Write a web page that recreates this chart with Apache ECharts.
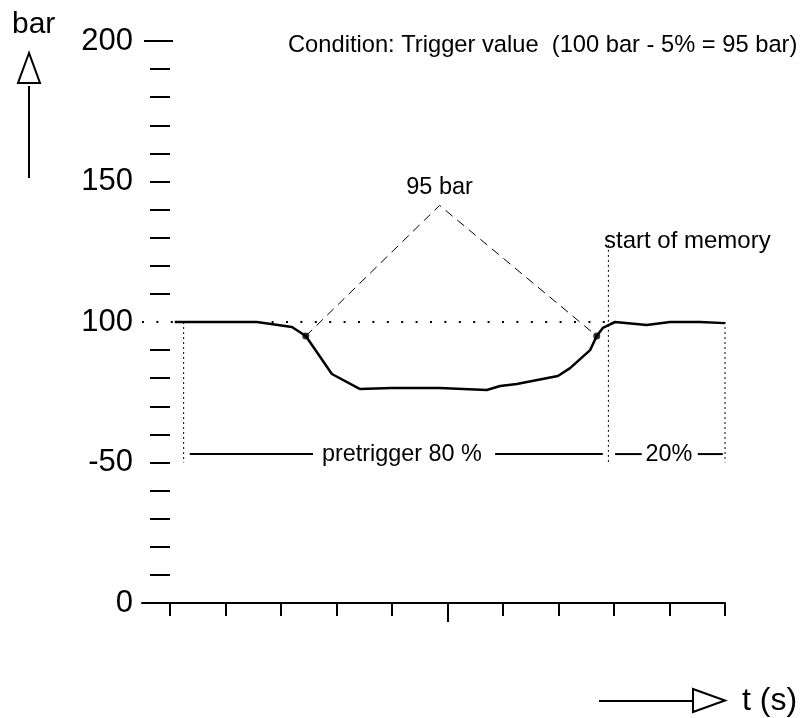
<!DOCTYPE html>
<html>
<head>
<meta charset="utf-8">
<script src="https://cdn.jsdelivr.net/npm/echarts@6/dist/echarts.min.js"></script>
<style>
  html, body { margin: 0; padding: 0; background: #fff; }
  #chart { width: 803px; height: 718px; }
</style>
</head>
<body>
<div id="chart"></div>
<script>
// Pressure trace (bar) over time (s)
const timeS       = [0.09, 1.57, 2.2, 2.45, 2.92, 3.42, 4.0, 4.86, 5.71, 5.95, 6.25, 6.99, 7.21, 7.57, 7.69, 7.8, 8.02, 8.59, 9.01, 9.55, 10];
const pressureBar = [100, 100, 98.2, 95, 81.5, 76.2, 76.5, 76.5, 75.8, 77.2, 77.9, 80.8, 83.6, 90, 95, 97.9, 100, 98.9, 100, 100, 99.6];

// Trigger condition: 100 bar - 5% = 95 bar
const nominalBar = 100;
const triggerBar = 95;
const triggerTimes = [2.45, 7.69];
const triggerApex = [4.86, 141.5];

// Memory window
const memoryStart = 0.25;
const memoryTrigger = 7.9;
const memoryEnd = 10;
const windowTop = [100, 131, 100];
const windowBottom = 50;
const windowBarLevel = 53;
const pretriggerSegments = [[0.36, 2.58], [5.86, 7.8]];
const postSegments = [[8.02, 8.5], [9.51, 9.96]];
const windowLabels = [
  { name: 'pretrigger 80 %', at: [4.18, 53] },
  { name: '20%', at: [8.99, 53] }
];
const memoryLabel = { name: 'start of memory', at: [7.82, 128.8] };

// Axis ticks and labels
const xMin = -0.5;
const xTicks = [0, 1, 2, 3, 4, 6, 7, 8, 9, 10];
const xMidTick = [5];
const yMinorTicks = [10, 20, 30, 40, 50, 60, 70, 80, 90, 110, 120, 130, 140, 150, 160, 170, 180, 190];
const yTopTick = [200];
const yLabelValues = [0, 50, 100, 150, 200];
const yLabelTexts = ['0', '-50', '100', '150', '200'];

const FONT = '"Liberation Sans", Arial, Helvetica, sans-serif';
const INK = '#000';

function segmentSeries(points, lineStyle) {
  return {
    type: 'line', data: points, showSymbol: false, symbol: 'none',
    silent: true, animation: false, clip: false,
    lineStyle: Object.assign({ color: INK }, lineStyle)
  };
}

const series = [];

// nominal 100 bar reference (dotted)
series.push(segmentSeries([[xMin, nominalBar], [memoryTrigger, nominalBar]],
  { width: 2, type: [2, 12.4], cap: 'butt' }));

// memory window boundaries (fine dotted)
[memoryStart, memoryTrigger, memoryEnd].forEach(function (t, i) {
  series.push(segmentSeries([[t, windowTop[i]], [t, windowBottom]],
    { width: 1, type: [2, 3] }));
});

// pretrigger / post-trigger span bars
pretriggerSegments.concat(postSegments).forEach(function (s) {
  series.push(segmentSeries([[s[0], windowBarLevel], [s[1], windowBarLevel]], { width: 2 }));
});

// dashed guide from trigger points to the 95 bar label
series.push(segmentSeries([[triggerTimes[0], triggerBar], triggerApex, [triggerTimes[1], triggerBar]],
  { width: 1, type: [9, 6] }));

// pressure trace
series.push({
  type: 'line', data: timeS.map(function (t, i) { return [t, pressureBar[i]]; }),
  showSymbol: false, symbol: 'none', animation: false,
  lineStyle: { color: INK, width: 2.5, join: 'round' }
});

// trigger points
series.push({
  type: 'scatter', animation: false,
  data: triggerTimes.map(function (t) { return [t, triggerBar]; }),
  symbolSize: 7, itemStyle: { color: INK }
});

function textEl(id, text, x, y, size, align) {
  return {
    type: 'text', id: id, z: 10,
    style: { text: text, x: x, y: y, font: size + 'px ' + FONT, fill: INK,
             textAlign: align || 'left', textVerticalAlign: 'middle' }
  };
}

const chart = echarts.init(document.getElementById('chart'), null, { renderer: 'canvas' });
chart.setOption({
  animation: false,
  backgroundColor: '#fff',
  grid: { left: 142, right: 78, top: 41, bottom: 115, containLabel: false },
  xAxis: [
    {
      type: 'value', min: xMin, max: 10,
      axisLine: { show: true, onZero: false, lineStyle: { color: INK, width: 2 } },
      axisTick: { show: true, customValues: xTicks, length: 13, lineStyle: { color: INK, width: 2 } },
      axisLabel: { show: false }, splitLine: { show: false }
    },
    {
      type: 'value', min: xMin, max: 10, position: 'bottom',
      axisLine: { show: false, onZero: false },
      axisTick: { show: true, customValues: xMidTick, length: 19, lineStyle: { color: INK, width: 2 } },
      axisLabel: { show: false }, splitLine: { show: false }
    }
  ],
  yAxis: [
    {
      type: 'value', min: 0, max: 200, position: 'left', offset: -28,
      axisLine: { show: false, onZero: false },
      axisTick: { show: true, customValues: yMinorTicks, length: 20, lineStyle: { color: INK, width: 2 } },
      axisLabel: {
        show: true, customValues: yLabelValues, margin: 37,
        color: INK, fontFamily: FONT, fontSize: 31,
        formatter: function (v) { return yLabelTexts[yLabelValues.indexOf(v)]; }
      },
      splitLine: { show: false }
    },
    {
      type: 'value', min: 0, max: 200, position: 'left', offset: -31,
      axisLine: { show: false, onZero: false },
      axisTick: { show: true, customValues: yTopTick, length: 29, lineStyle: { color: INK, width: 2 } },
      axisLabel: { show: false }, splitLine: { show: false }
    }
  ],
  series: series,
  graphic: [
    // y-axis caption with open arrow
    { type: 'polyline', id: 'yShaft', shape: { points: [[29, 86], [29, 178]] }, style: { stroke: INK, lineWidth: 2, fill: null } },
    { type: 'polygon', id: 'yHead', shape: { points: [[29, 53], [18, 83], [40, 83]] }, style: { stroke: INK, lineWidth: 2, fill: '#fff' } },
    textEl('yName', 'bar', 12, 25, 30),
    // x-axis caption with open arrow
    { type: 'polyline', id: 'xShaft', shape: { points: [[599, 701], [693, 701]] }, style: { stroke: INK, lineWidth: 2, fill: null } },
    { type: 'polygon', id: 'xHead', shape: { points: [[693, 689], [693, 712], [725, 700.5]] }, style: { stroke: INK, lineWidth: 2, fill: '#fff' } },
    textEl('xName', 't (s)', 742, 701, 32),
    // condition headline
    textEl('headline', 'Condition: Trigger value  (100 bar - 5% = 95 bar)', 288, 45, 23.7)
  ]
});

// annotation texts placed at their data positions
function px(p) { return chart.convertToPixel({ gridIndex: 0 }, p); }
const notes = [];
windowLabels.forEach(function (l, i) {
  const p = px(l.at);
  notes.push(textEl('win' + i, l.name, p[0], p[1], 23.4, 'center'));
});
const apex = px(triggerApex);
notes.push(textEl('apexLabel', triggerBar + ' bar', apex[0], apex[1] - 18, 23.5, 'center'));
const mem = px(memoryLabel.at);
notes.push(textEl('memLabel', memoryLabel.name, mem[0], mem[1], 24, 'left'));
chart.setOption({ graphic: notes });
</script>
</body>
</html>
